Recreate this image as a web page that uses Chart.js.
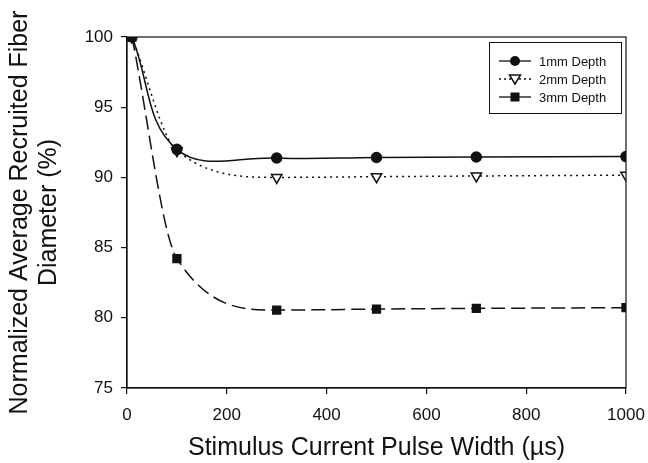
<!DOCTYPE html>
<html>
<head>
<meta charset="utf-8">
<script src="https://cdn.jsdelivr.net/npm/chart.js@4.4.0/dist/chart.umd.min.js"></script>
<style>
  html,body{margin:0;padding:0;background:#fff}
  #wrap{width:648px;height:463px;position:relative}
</style>
</head>
<body>
<div id="wrap"><canvas id="c"></canvas></div>
<script>
// values
const pulseWidths = [10, 100, 300, 500, 700, 1000];
const depth1mm = [100, 92.0, 91.38, 91.42, 91.45, 91.48];
const depth2mm = [100, 91.9, 90.0, 90.05, 90.1, 90.16];
const depth3mm = [100, 84.22, 80.55, 80.62, 80.67, 80.72];
const seriesLabels = ['1mm Depth', '2mm Depth', '3mm Depth'];
const xTicks = [0, 200, 400, 600, 800, 1000];

const INK = '#111';
const FONT = '"Liberation Sans", Arial, sans-serif';

function pts(ys){ return pulseWidths.map((x,i)=>({x:x, y:ys[i]})); }

// marker drawing for the legend box
function drawMarker(ctx, style, x, y){
  ctx.save();
  ctx.lineWidth = 1.5;
  ctx.strokeStyle = INK;
  ctx.fillStyle = INK;
  ctx.setLineDash([]);
  if (style === 'circle'){
    ctx.beginPath(); ctx.arc(x, y, 5, 0, Math.PI*2); ctx.fill();
  } else if (style === 'rect'){
    ctx.fillRect(x-4.5, y-4.5, 9, 9);
  } else {
    ctx.fillStyle = '#fff';
    ctx.beginPath(); ctx.moveTo(x-5.5, y-4); ctx.lineTo(x+5.5, y-4); ctx.lineTo(x, y+5); ctx.closePath();
    ctx.fill(); ctx.stroke();
  }
  ctx.restore();
}

const frameAndLegend = {
  id: 'frameAndLegend',
  afterDatasetsDraw(chart){
    const {ctx, chartArea:a} = chart;
    ctx.save();
    ctx.strokeStyle = INK; ctx.lineWidth = 1.2;
    ctx.strokeRect(a.left, a.top, a.right-a.left, a.bottom-a.top);

    // legend box
    const bx = 489, by = 42, bw = 132, bh = 71;
    ctx.fillStyle = '#fff';
    ctx.fillRect(bx, by, bw, bh);
    ctx.lineWidth = 1;
    ctx.strokeRect(bx+0.5, by+0.5, bw, bh);
    const styles = ['circle','triangle','rect'];
    chart.data.datasets.forEach((ds, i) => {
      const y = by + 19 + i*18;
      ctx.save();
      ctx.strokeStyle = INK; ctx.lineWidth = 1.3;
      ctx.setLineDash(i===1 ? [2,3] : []);
      ctx.beginPath(); ctx.moveTo(499, y); ctx.lineTo(531, y); ctx.stroke();
      ctx.restore();
      drawMarker(ctx, styles[i], 515, y);
      ctx.fillStyle = INK;
      ctx.font = '13px ' + FONT;
      ctx.textBaseline = 'middle';
      ctx.fillText(ds.label, 539, y+1);
    });
    ctx.restore();
  }
};

new Chart(document.getElementById('c'), {
  type: 'line',
  data: {
    datasets: [
      { label: seriesLabels[0], data: pts(depth1mm), borderColor: INK, backgroundColor: INK,
        borderWidth: 1.5, tension: 0.4, pointStyle: 'circle', pointRadius: 5, pointBackgroundColor: INK },
      { label: seriesLabels[1], data: pts(depth2mm), borderColor: INK, backgroundColor: '#fff',
        borderWidth: 1.5, borderDash: [2,4], cubicInterpolationMode: 'monotone', pointStyle: 'triangle', rotation: 180,
        pointRadius: 6, pointBorderWidth: 1.5, pointBackgroundColor: '#fff' },
      { label: seriesLabels[2], data: pts(depth3mm), borderColor: INK, backgroundColor: INK,
        borderWidth: 1.5, borderDash: [14,6], cubicInterpolationMode: 'monotone', pointStyle: 'rect', pointRadius: 5.5,
        pointBackgroundColor: INK }
    ]
  },
  options: {
    responsive: true,
    maintainAspectRatio: false,
    animation: false,
    layout: { padding: { top: 37, right: 22, left: 0, bottom: 0 } },
    plugins: { legend: { display: false }, tooltip: { enabled: false } },
    scales: {
      x: {
        type: 'linear', min: 0, max: 1000,
        afterBuildTicks(s){ s.ticks = xTicks.map(v=>({value:v})); },
        afterFit(s){ s.height = 75; s.paddingLeft = 0; s.paddingRight = 0; },
        grid: { display: true, drawOnChartArea: false, drawTicks: true, tickLength: 6, color: INK, lineWidth: 1.2 },
        border: { display: true, color: INK, width: 1.2 },
        ticks: { color: INK, font: { family: FONT, size: 17 }, padding: 11, maxRotation: 0,
                 callback: v => String(v) },
        title: { display: true, text: 'Stimulus Current Pulse Width (\u00b5s)', color: INK,
                 font: { family: FONT, size: 25 }, padding: { top: 2, bottom: 0 } }
      },
      y: {
        min: 75, max: 100,
        ticks: { stepSize: 5, color: INK, font: { family: FONT, size: 17 }, padding: 8 },
        afterFit(s){ s.width = 127; s.paddingTop = 0; s.paddingBottom = 0; },
        grid: { display: true, drawOnChartArea: false, drawTicks: true, tickLength: 6, color: INK, lineWidth: 1.2 },
        border: { display: true, color: INK, width: 1.2 },
        title: { display: true, text: ['Normalized Average Recruited Fiber', 'Diameter (%)'], color: INK,
                 font: { family: FONT, size: 25, lineHeight: 1.15 }, padding: { top: 6, bottom: 0 } }
      }
    }
  },
  plugins: [frameAndLegend]
});
</script>
</body>
</html>
